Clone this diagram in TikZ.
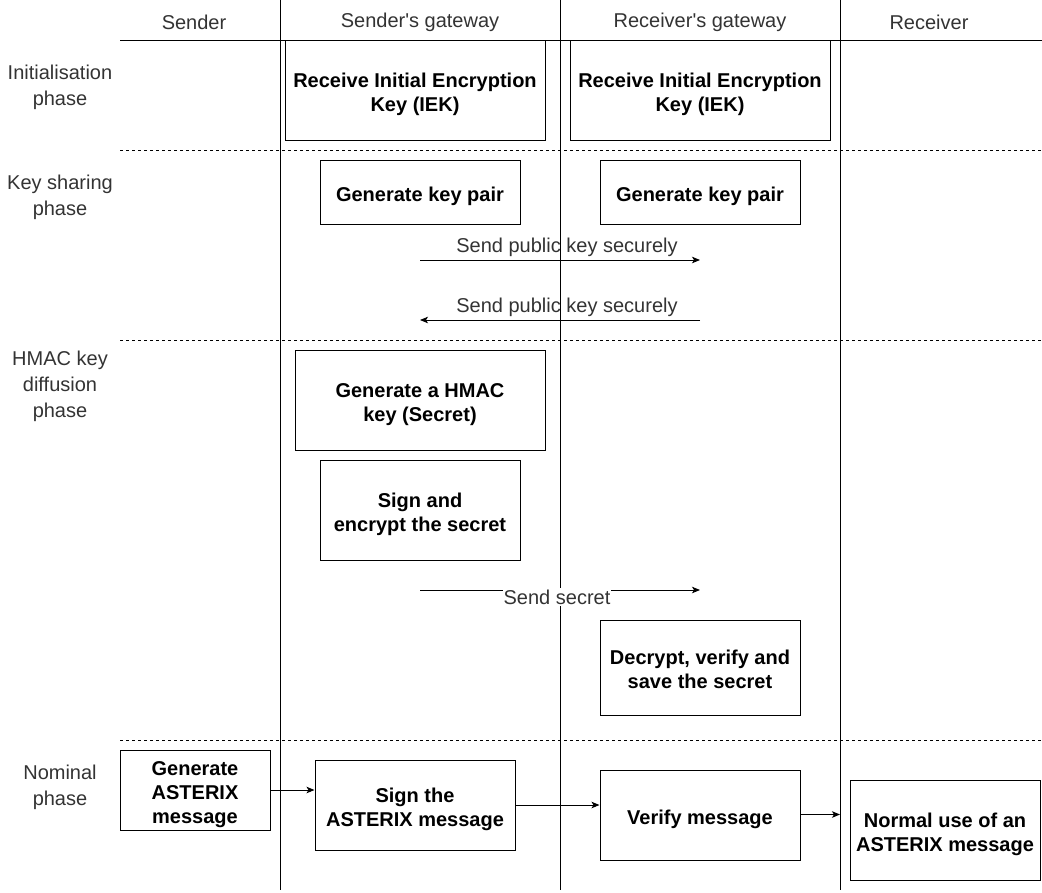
\documentclass[tikz,border=0pt]{standalone}
\usepackage{fontspec}
\setmainfont{Liberation Sans}
\usetikzlibrary{arrows.meta}
\definecolor{txtgray}{RGB}{51,51,51}
\newcommand\topstrutx{\rule{0pt}{23.6pt}}
\newcommand\botstrutx{\rule[-5pt]{0pt}{5pt}}
\tikzset{
  lane/.style={line width=1pt, draw=black},
  phasesep/.style={line width=1pt, draw=black, dash pattern=on 3pt off 3pt},
  stepbox/.style={draw=black, line width=1pt, fill=white, align=center, inner sep=0pt,
    font=\fontsize{20}{24}\selectfont\bfseries},
  header/.style={text=txtgray, font=\fontsize{20}{24}\selectfont, inner sep=0pt},
  phaselabel/.style={text=txtgray, align=center, font=\fontsize{20}{26}\selectfont, inner sep=0pt},
  msglabel/.style={text=txtgray, font=\fontsize{20}{24}\selectfont, inner sep=1pt},
  msg/.style={line width=1pt, -{Stealth[length=8pt,width=6.5pt,inset=2pt]}}
}
\begin{document}
\begin{tikzpicture}[x=1pt,y=-1pt]
\useasboundingbox (0,0) rectangle (1042,892);
% lanes
\coordinate (l1t) at (280,0);   \coordinate (l1b) at (280,890);
\coordinate (l2t) at (560,0);   \coordinate (l2b) at (560,890);
\coordinate (l3t) at (840,0);   \coordinate (l3b) at (840,890);
\draw[lane] (l1t) -- (l1b);
\draw[lane] (l2t) -- (l2b);
\draw[lane] (l3t) -- (l3b);
\coordinate (topl) at (120,40); \coordinate (topr) at (1042,40);
\draw[lane] (topl) -- (topr);
\coordinate (d1l) at (120,150); \coordinate (d1r) at (1042,150);
\coordinate (d2l) at (120,340); \coordinate (d2r) at (1042,340);
\coordinate (d3l) at (120,740); \coordinate (d3r) at (1042,740);
\draw[phasesep] (d1l) -- (d1r);
\draw[phasesep] (d2l) -- (d2r);
\draw[phasesep] (d3l) -- (d3r);
% headers
\node[header] (hs) at (194,22) {Sender};
\node[header] (hsg) at (420,22) {Sender\textquotesingle s gateway};
\node[header] (hrg) at (700,22) {Receiver\textquotesingle s gateway};
\node[header] (hr) at (929,22) {Receiver};
% phase labels
\node[phaselabel] (p1) at (60,87) {Initialisation\\phase};
\node[phaselabel] (p2) at (60,197) {Key sharing\\phase};
\node[phaselabel] (p3) at (60,386) {HMAC key\\diffusion\\phase};
\node[phaselabel] (p4) at (60,787) {Nominal\\phase};
% boxes
\node[stepbox, minimum width=260pt, minimum height=100pt] (iek1) at (415,90) {\topstrutx Receive Initial Encryption\\Key (IEK)\botstrutx};
\node[stepbox, minimum width=260pt, minimum height=100pt] (iek2) at (700,90) {\topstrutx Receive Initial Encryption\\Key (IEK)\botstrutx};
\node[stepbox, minimum width=200pt, minimum height=64pt] (kp1) at (420,192.5) {\topstrutx Generate key pair\botstrutx};
\node[stepbox, minimum width=200pt, minimum height=64pt] (kp2) at (700,192.5) {\topstrutx Generate key pair\botstrutx};
\node[stepbox, minimum width=250pt, minimum height=100pt] (hmac) at (420,400) {\topstrutx Generate a HMAC\\key (Secret)\botstrutx};
\node[stepbox, minimum width=200pt, minimum height=100pt] (sig) at (420,510) {\topstrutx Sign and\\encrypt the secret\botstrutx};
\node[stepbox, minimum width=200pt, minimum height=95pt] (dec) at (700,667.5) {\topstrutx Decrypt, verify and\\save the secret\botstrutx};
\node[stepbox, minimum width=150pt, minimum height=80pt] (gen) at (195,790) {\topstrutx Generate\\ASTERIX\\message\botstrutx};
\node[stepbox, minimum width=200pt, minimum height=90pt] (sam) at (415,805) {\topstrutx Sign the\\ASTERIX message\botstrutx};
\node[stepbox, minimum width=200pt, minimum height=90pt] (ver) at (700,815) {\topstrutx Verify message\botstrutx};
\node[stepbox, minimum width=190pt, minimum height=100pt] (nor) at (945,830) {\topstrutx Normal use of an\\ASTERIX message\botstrutx};
% key sharing messages
\coordinate (pkA1) at (420,260); \coordinate (pkA2) at (700,260);
\coordinate (pkB1) at (700,320); \coordinate (pkB2) at (420,320);
\draw[msg] (pkA1) -- (pkA2);
\draw[msg] (pkB1) -- (pkB2);
\node[msglabel] (lblA) at (567,247) {Send public key securely};
\node[msglabel] (lblB) at (567,307) {Send public key securely};
% secret message
\coordinate (ss1) at (420,590); \coordinate (ss2) at (700,590);
\draw[msg] (ss1) -- (ss2);
\node[msglabel, fill=white, inner xsep=1pt, inner ysep=2pt] (lblS) at (557,597) {Send secret};
% nominal phase
\draw[msg] (gen.east) -- (gen.east -| sam.west);
\draw[msg] (sam.east) -- (sam.east -| ver.west);
\coordinate (verend) at (840,814.5);
\draw[msg] (ver.east |- verend) -- (verend);
\end{tikzpicture}
\end{document}
